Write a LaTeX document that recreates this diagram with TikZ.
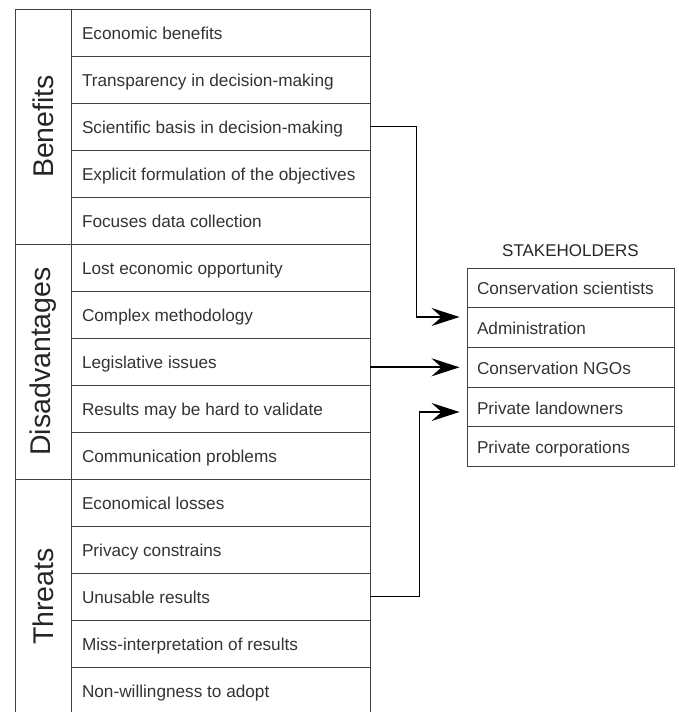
\documentclass[tikz,border=0pt]{standalone}
\usepackage{fontspec}
\setmainfont{Liberation Sans}
\usetikzlibrary{arrows.meta,positioning,calc}

\begin{document}
\begin{tikzpicture}[x=1pt, y=-1pt, auto]
          \tikzstyle{cell} = [rectangle, draw=black!75, line width=0.9pt, text=black!80,
            font=\fontsize{17.2}{20}\selectfont, inner xsep=11pt, minimum width=299pt,
            text height=14pt, text depth=0pt, minimum height=47pt]
          \tikzstyle{stake} = [cell, inner xsep=10pt, minimum width=207pt, minimum height=39.7pt]
          \tikzstyle{group} = [rectangle, draw=black!75, line width=0.9pt, text=black!85,
            rotate=90, minimum width=235pt, minimum height=56pt, inner sep=0pt,
            font=\fontsize{28.5}{30}\selectfont]
          \tikzstyle{link} = [draw, line width=1.7pt, -{Stealth[length=28pt, width=18pt, inset=10pt]}]

          \useasboundingbox (0,0) rectangle (678,712);

          % left table
          \node[group] (gb) at (43,126.5) {Benefits};
          \node[group] (gd) at (43,361.5) {Disadvantages};
          \node[group] (gt) at (43,596.5) {Threats};
          \foreach \txt [count=\i] in {Economic benefits, Transparency in decision-making,
              Scientific basis in decision-making, Explicit formulation of the objectives,
              Focuses data collection}
            \node[cell] (b\i) at (220.5,{32.5+47*(\i-1)}) {\makebox[277pt][l]{\txt}};
          \foreach \txt [count=\i] in {Lost economic opportunity, Complex methodology,
              Legislative issues, Results may be hard to validate, Communication problems}
            \node[cell] (d\i) at (220.5,{267.5+47*(\i-1)}) {\makebox[277pt][l]{\txt}};
          \foreach \txt [count=\i] in {Economical losses, Privacy constrains, Unusable results,
              Miss-interpretation of results, Non-willingness to adopt}
            \node[cell] (t\i) at (220.5,{502.5+47*(\i-1)}) {\makebox[277pt][l]{\txt}};

          % stakeholders
          \foreach \txt [count=\i] in {Conservation scientists, Administration, Conservation NGOs,
              Private landowners, Private corporations}
            \node[stake] (s\i) at (570.5,{287.9+39.7*(\i-1)}) {\makebox[187pt][l]{\txt}};
          \node[above=11pt of s1, inner sep=0pt, text=black!85,
            font=\fontsize{17}{20}\selectfont] (title) {STAKEHOLDERS};

          \path[link] (b3.east) -- ++(46,0) |- ([xshift=-7pt, yshift=10.6pt]s2.west);
          \path[link] (d3.east |- s3.west) -- ([xshift=-7pt]s3.west);
          \path[link] (t3.east) -- ++(49,0) |- ([xshift=-7pt, yshift=-5pt]s4.west);
        \end{tikzpicture}
\end{document}
